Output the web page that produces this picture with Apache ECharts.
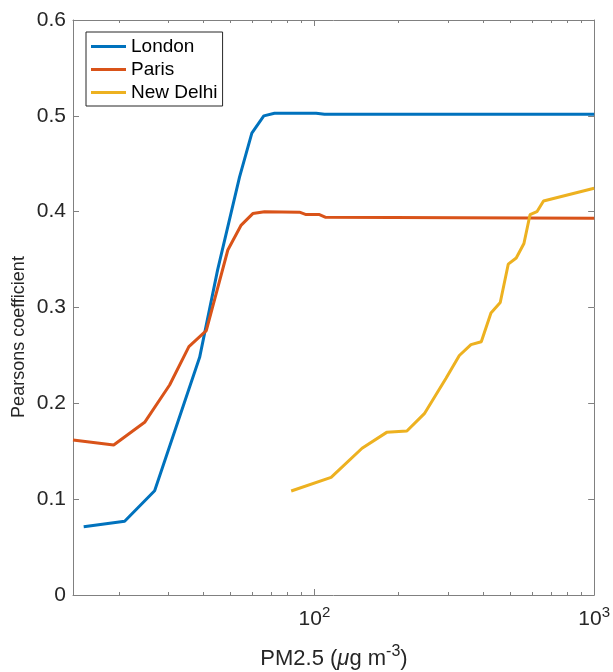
<!DOCTYPE html>
<html>
<head>
<meta charset="utf-8">
<script src="https://cdn.jsdelivr.net/npm/echarts@6/dist/echarts.min.js"></script>
<style>
  html, body { margin: 0; padding: 0; background: #fff; }
  #main { width: 613px; height: 672px; }
</style>
</head>
<body>
<div id="main"></div>
<script>
// PM2.5 thresholds (x) and Pearson coefficient (y) per city
const londonX = [14.96, 20.96, 26.83, 38.86, 45.04, 53.96, 59.72, 65.9, 71.97, 101.4, 108.6, 1000];
const londonY = [0.0713, 0.0769, 0.1088, 0.248, 0.339, 0.436, 0.482, 0.500, 0.5027, 0.5027, 0.5016, 0.5016];

const parisX = [13.7, 19.15, 24.71, 30.35, 35.57, 41.04, 49.01, 54.72, 60.2, 66.29, 88.4, 93.4, 104.2, 109.7, 1000];
const parisY = [0.1617, 0.1565, 0.1802, 0.2191, 0.2591, 0.2758, 0.360, 0.386, 0.398, 0.400, 0.3995, 0.397, 0.397, 0.3941, 0.3931];

const delhiX = [82.56, 114.7, 148.0, 181.2, 214.0, 247.1, 295.4, 329.6, 362.7, 394.9, 427.6, 461.6, 493.0, 526.5, 561.0, 589.8, 624.3, 659.1, 1000];
const delhiY = [0.1085, 0.1228, 0.1531, 0.1697, 0.1711, 0.1892, 0.2261, 0.2499, 0.2612, 0.2643, 0.2943, 0.3052, 0.3452, 0.3517, 0.3668, 0.3968, 0.4000, 0.4111, 0.4244];

const xMajor = [100, 1000];
const xMinor = [20, 30, 40, 50, 60, 70, 80, 90, 200, 300, 400, 500, 600, 700, 800, 900];
const xMin = 13.7;
const xMax = 1000;

const font = "'Liberation Sans', Arial, Helvetica, sans-serif";
const textColor = "#262626";
const axisColor = "#808080";

function pairs(xs, ys) {
  return xs.map((x, i) => [x, ys[i]]);
}

function xAxisDef(pos, ticks, len, showLine, showLabel) {
  return {
    type: "log",
    logBase: 10,
    min: xMin,
    max: xMax,
    position: pos,
    axisLine: { show: showLine, lineStyle: { color: axisColor, width: 1 } },
    splitLine: { show: false },
    minorTick: { show: false },
    axisTick: {
      show: true,
      inside: true,
      length: len,
      customValues: ticks,
      lineStyle: { color: axisColor, width: 1 }
    },
    axisLabel: {
      show: showLabel,
      customValues: ticks,
      margin: 10,
      formatter: function (v) {
        const p = Math.round(Math.log10(v));
        return "{a|10}{s|" + p + "}";
      },
      rich: {
        a: { fontSize: 21, fontFamily: font, color: textColor, verticalAlign: "bottom" },
        s: { fontSize: 15, fontFamily: font, color: textColor, verticalAlign: "bottom", padding: [0, 0, 10, 0] }
      }
    }
  };
}

function yAxisDef(pos, showLabel) {
  return {
    type: "value",
    min: 0,
    max: 0.6,
    interval: 0.1,
    position: pos,
    axisLine: { show: true, lineStyle: { color: axisColor, width: 1 } },
    splitLine: { show: false },
    axisTick: { show: true, inside: true, length: 6, lineStyle: { color: axisColor } },
    axisLabel: {
      show: showLabel,
      margin: 7,
      fontSize: 21,
      fontFamily: font,
      color: textColor,
      formatter: function (v) {
        return v === 0 ? "0" : v.toFixed(1);
      }
    }
  };
}

const chart = echarts.init(document.getElementById("main"));
chart.setOption({
  animation: false,
  backgroundColor: "#fff",
  grid: { left: 73, right: 18, top: 20, bottom: 77, containLabel: false },
  xAxis: [
    xAxisDef("bottom", xMajor, 6, true, true),
    xAxisDef("bottom", xMinor, 3, false, false),
    xAxisDef("top", xMajor, 6, true, false),
    xAxisDef("top", xMinor, 3, false, false)
  ],
  yAxis: [yAxisDef("left", true), yAxisDef("right", false)],
  legend: {
    orient: "vertical",
    left: 86,
    top: 32,
    icon: "rect",
    itemWidth: 35,
    itemHeight: 3,
    itemGap: 4,
    padding: [5, 5, 4, 5],
    backgroundColor: "#fff",
    borderColor: "#262626",
    borderWidth: 1,
    borderRadius: 0,
    textStyle: { fontSize: 19, fontFamily: font, color: "#000" },
    data: ["London", "Paris", "New Delhi"]
  },
  graphic: [
    {
      type: "text",
      x: 19,
      y: 337,
      rotation: Math.PI / 2,
      style: {
        text: "Pearsons coefficient",
        fontSize: 18,
        fontFamily: font,
        fill: textColor,
        textAlign: "center",
        textVerticalAlign: "middle"
      }
    },
    {
      type: "text",
      x: 334,
      y: 657,
      style: {
        text: "{a|PM2.5 (}{m|\u03bc}{a|g m}{s|-3}{a|)}",
        rich: {
          a: { fontSize: 22, fontFamily: font, fill: textColor, verticalAlign: "bottom" },
          m: { fontSize: 22, fontFamily: font, fontStyle: "italic", fill: textColor, verticalAlign: "bottom" },
          s: { fontSize: 16, fontFamily: font, fill: textColor, verticalAlign: "bottom", padding: [0, 0, 10, 0] }
        },
        textAlign: "center",
        textVerticalAlign: "middle"
      }
    }
  ],
  series: [
    {
      name: "London",
      type: "line",
      data: pairs(londonX, londonY),
      showSymbol: false,
      symbol: "none",
      lineStyle: { width: 3, color: "#0072BD" },
      itemStyle: { color: "#0072BD" }
    },
    {
      name: "Paris",
      type: "line",
      data: pairs(parisX, parisY),
      showSymbol: false,
      symbol: "none",
      lineStyle: { width: 3, color: "#D95319" },
      itemStyle: { color: "#D95319" }
    },
    {
      name: "New Delhi",
      type: "line",
      data: pairs(delhiX, delhiY),
      showSymbol: false,
      symbol: "none",
      lineStyle: { width: 3, color: "#EDB120" },
      itemStyle: { color: "#EDB120" }
    }
  ]
});
</script>
</body>
</html>
